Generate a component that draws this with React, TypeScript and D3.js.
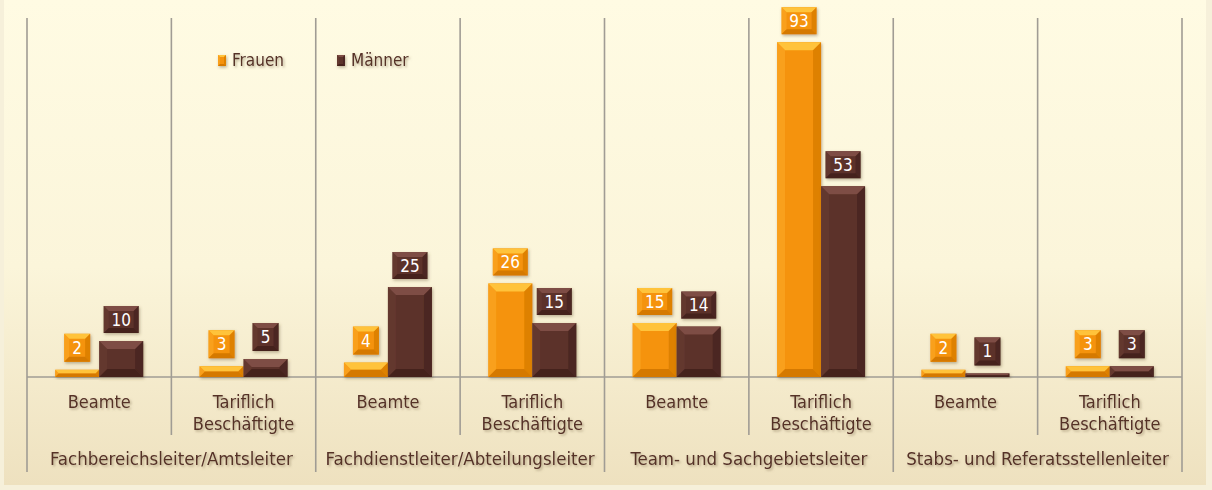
import * as d3 from "d3";
import React from "react";

const groups = [
  "Fachbereichsleiter/Amtsleiter",
  "Fachdienstleiter/Abteilungsleiter",
  "Team- und Sachgebietsleiter",
  "Stabs- und Referatsstellenleiter",
];
const subCategories = ["Beamte", "Tariflich Beschäftigte"];
const series = ["Frauen", "Männer"];
const frauen = [2, 3, 4, 26, 15, 93, 2, 3];
const maenner = [10, 5, 25, 15, 14, 53, 1, 3];

const W = 1212;
const H = 490;
const FONT = "'Liberation Sans Narrow', 'DejaVu Sans Condensed', 'Open Sans', sans-serif";

const palette: Record<string, { body: string; light: string; dark: string; side: string }> = {
  Frauen: { body: "#f5930a", light: "#ffc33a", dark: "#cf7400", side: "#fba928" },
  Männer: { body: "#5b3129", light: "#7e4d44", dark: "#42221c", side: "#6a3c33" },
};

function Bevel(props: { x: number; y: number; w: number; h: number; name: string; b: number }) {
  const { x, y, w, h, name } = props;
  const c = palette[name];
  const b = Math.max(0.5, Math.min(props.b, h / 2, w / 4));
  return (
    <g filter="url(#boxShadow)">
      <rect x={x} y={y} width={w} height={h} fill={c.body} />
      <polygon points={`${x},${y} ${x + w},${y} ${x + w - b},${y + b} ${x + b},${y + b}`} fill={c.light} />
      <polygon points={`${x},${y} ${x + b},${y + b} ${x + b},${y + h - b} ${x},${y + h}`} fill={c.side} opacity={0.6} />
      <polygon points={`${x + w},${y} ${x + w - b},${y + b} ${x + w - b},${y + h - b} ${x + w},${y + h}`} fill={c.dark} opacity={0.6} />
      <polygon points={`${x},${y + h} ${x + b},${y + h - b} ${x + w - b},${y + h - b} ${x + w},${y + h}`} fill={c.dark} opacity={0.85} />
    </g>
  );
}

export default function App() {
  const left = 27;
  const right = 1182;
  const baseY = 377;

  const cats = d3.range(groups.length * subCategories.length).map(String);
  const x0 = d3.scaleBand<string>().domain(cats).range([left, right]).padding(0);
  const x1 = d3.scaleBand<string>().domain(series).range([0, x0.bandwidth()]).paddingInner(0).paddingOuter(0.64);
  const y = d3.scaleLinear().domain([0, 100]).range([baseY, 17]);
  const gx = d3.scaleBand<string>().domain(groups).range([left, right]);

  const values: Record<string, number[]> = { Frauen: frauen, Männer: maenner };
  const textColor = "#553028";

  return (
    <svg width={W} height={H} style={{ position: "absolute", left: 0, top: 0 }} fontFamily={FONT}>
      <defs>
        <linearGradient id="bg" x1="0" y1="0" x2="0" y2="1">
          <stop offset="0" stopColor="#fffbe3" />
          <stop offset="0.55" stopColor="#fbf5da" />
          <stop offset="1" stopColor="#eee1bf" />
        </linearGradient>
        <filter id="boxShadow" x="-30%" y="-30%" width="160%" height="160%">
          <feDropShadow dx="1" dy="1.5" stdDeviation="1.5" floodColor="#6b5a3a" floodOpacity="0.45" />
        </filter>
        <filter id="textShadow" x="-10%" y="-30%" width="120%" height="160%">
          <feDropShadow dx="1.5" dy="1.5" stdDeviation="1" floodColor="#8c7a5a" floodOpacity="0.6" />
        </filter>
      </defs>
      <rect width={W} height={H} fill="#f6f0da" />
      <rect x={4} y={0} width={1202} height={485} fill="url(#bg)" />

      {/* vertical grid lines */}
      {d3.range(cats.length + 1).map((i) => {
        const xx = left + i * x0.step();
        const bottom = i % 2 === 0 ? 472 : 435;
        return <line key={i} x1={xx} x2={xx} y1={18} y2={bottom} stroke="#a09c94" strokeWidth={1.6} />;
      })}
      <line x1={left} x2={right} y1={baseY} y2={baseY} stroke="#a09c94" strokeWidth={1.6} />

      {/* bars */}
      {cats.map((c, i) =>
        series.map((s) => {
          const v = values[s][i];
          const bx = (x0(c) as number) + (x1(s) as number);
          const bw = x1.bandwidth();
          const top = y(v);
          const label = String(v);
          const boxW = label.length > 1 ? 35 : 26;
          const boxH = label.length > 1 ? 27 : 28;
          const cx = bx + bw / 2;
          const boxY = top - 8 - boxH;
          return (
            <g key={c + s}>
              <Bevel x={bx} y={top} w={bw} h={baseY - top} name={s} b={8} />
              <Bevel x={cx - boxW / 2} y={boxY} w={boxW} h={boxH} name={s} b={5} />
              <text x={cx} y={boxY + boxH / 2 + 6} textAnchor="middle" fill="#ffffff" fontSize={17}>
                {label}
              </text>
            </g>
          );
        })
      )}

      {/* sub-category labels */}
      <g filter="url(#textShadow)" fill={textColor}>
        {cats.map((c, i) => {
          const sub = subCategories[i % subCategories.length];
          const cx = (x0(c) as number) + x0.bandwidth() / 2;
          const words = sub.split(" ");
          return words.map((wd, j) => (
            <text key={c + j} x={cx} y={words.length === 1 ? 408 : 408 + j * 22} textAnchor="middle" fontSize={18}>
              {wd}
            </text>
          ));
        })}
        {groups.map((g) => (
          <text key={g} x={(gx(g) as number) + gx.bandwidth() / 2} y={465} textAnchor="middle" fontSize={18.5}>
            {g}
          </text>
        ))}
      </g>

      {/* legend */}
      {series.map((s, i) => {
        const lx = [218, 337][i];
        return (
          <g key={s}>
            <Bevel x={lx} y={55} w={8} h={11} name={s} b={2} />
            <text x={lx + 14} y={66} fill={textColor} fontSize={17} filter="url(#textShadow)">
              {s}
            </text>
          </g>
        );
      })}
    </svg>
  );
}
